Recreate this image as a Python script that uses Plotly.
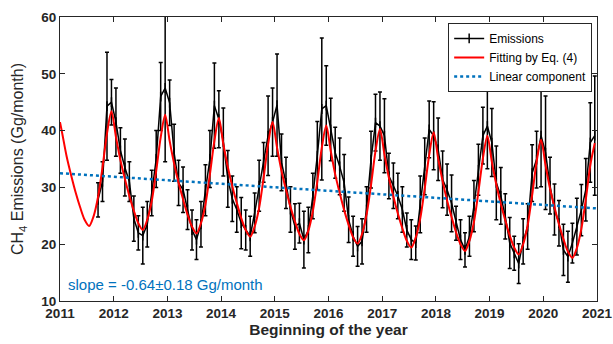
import plotly.graph_objects as go

# ---- data ----
data_start_year = 2011
data_start_month = 9  # first observation: Sep 2011

emissions = [
    27.8, 31.0, 44.3, 45.0,
    41.5, 36.5, 33.5, 31.0, 24.5, 22.0, 21.5, 23.5, 29.0, 35.0, 46.0, 47.5,
    44.9, 36.1, 30.8, 29.6, 26.1, 22.5, 20.8, 23.5, 29.5, 35.0, 44.4, 42.0,
    38.0, 31.5, 28.0, 26.1, 23.7, 22.5, 21.4, 25.5, 30.3, 34.4, 39.1, 41.5,
    44.5, 34.4, 30.8, 26.1, 23.1, 23.7, 20.8, 22.5, 28.5, 35.6, 43.8, 44.4,
    40.2, 36.1, 33.7, 30.8, 24.3, 21.4, 19.6, 20.5, 26.1, 34.9, 41.4, 40.8,
    39.1, 32.0, 30.3, 28.5, 26.1, 22.5, 20.8, 20.2, 27.0, 33.7, 40.2, 39.1,
    36.7, 31.4, 29.6, 27.2, 23.7, 20.8, 19.0, 21.4, 26.7, 33.1, 39.1, 40.8,
    37.9, 30.8, 28.5, 24.9, 20.2, 18.4, 16.6, 20.5, 23.1, 32.5, 34.9, 39.1,
    36.1, 30.3, 26.1, 23.7, 19.0, 17.8, 20.2, 23.1, 26.0, 29.6, 37.9, 39.1,
]
emission_err = [
    3.0, 3.5, 9.5, 4.0,
    6.0, 4.0, 5.0, 3.5, 4.0, 3.0, 5.0, 4.0, 4.0, 5.0, 6.0, 13.0,
    4.0, 5.0, 4.0, 4.0, 3.5, 3.5, 3.5, 4.0, 4.5, 5.0, 7.5, 5.0,
    6.0, 5.0, 4.0, 4.0, 4.5, 3.5, 3.5, 3.5, 4.5, 3.5, 7.0, 6.0,
    9.0, 5.0, 4.5, 4.0, 4.0, 3.5, 5.0, 4.0, 4.0, 6.0, 12.5, 7.0,
    5.5, 4.5, 5.0, 5.0, 4.0, 3.5, 3.5, 4.0, 4.0, 5.0, 5.0, 6.0,
    6.5, 4.0, 4.0, 4.0, 4.0, 3.0, 3.5, 3.0, 5.0, 5.0, 5.0, 6.0,
    5.5, 5.0, 4.5, 5.0, 3.0, 3.5, 3.0, 3.5, 4.5, 4.5, 5.0, 7.5,
    6.0, 6.5, 5.0, 4.0, 4.5, 3.0, 3.5, 4.0, 4.0, 5.0, 5.0, 9.0,
    10.0, 5.0, 4.5, 4.0, 4.5, 4.5, 3.5, 5.0, 4.5, 5.5, 7.0, 10.5,
]

fit_start_value = 41.5  # fitted curve at 2011.0
fit_values = [
    39.5, 35.4, 32.1, 29.1, 26.5, 24.3, 23.2, 24.9, 28.3, 33.5, 39.5, 43.4,
    38.9, 34.8, 31.5, 28.5, 25.9, 23.7, 22.5, 24.3, 27.6, 32.9, 38.8, 42.8,
    38.2, 34.2, 30.8, 27.9, 25.2, 23.1, 21.9, 23.7, 27.0, 32.3, 38.2, 42.2,
    37.6, 33.6, 30.2, 27.3, 24.6, 22.5, 21.3, 23.1, 26.4, 31.7, 37.6, 41.5,
    37.0, 32.9, 29.6, 26.6, 24.0, 21.8, 20.7, 22.4, 25.8, 31.0, 37.0, 40.9,
    36.4, 32.3, 29.0, 26.0, 23.4, 21.2, 20.1, 21.8, 25.2, 30.4, 36.4, 40.3,
    35.8, 31.7, 28.4, 25.4, 22.8, 20.6, 19.4, 21.2, 24.5, 29.8, 35.7, 39.7,
    35.1, 31.1, 27.7, 24.8, 22.1, 20.0, 18.8, 20.6, 23.9, 29.2, 35.1, 39.1,
    34.5, 30.5, 27.1, 24.2, 21.5, 19.4, 18.2, 20.0, 23.3, 28.6, 34.5, 38.4,
    33.9, 29.8, 26.5, 23.5, 20.9, 18.7, 17.6, 19.3, 22.7, 27.9, 33.9, 37.8,
]

linear_years = [2011, 2021]
linear_values = [32.5, 26.3]

year_ticks = list(range(2011, 2022))
y_ticks = [10, 20, 30, 40, 50, 60]

# mid-month decimal-year positions
def month_positions(start_year, start_month, n):
    out = []
    for i in range(n):
        k = (start_month - 1) + i
        y = start_year + k // 12
        m = k % 12
        out.append(y + (m + 0.5) / 12)
    return out

x_data = month_positions(data_start_year, data_start_month, len(emissions))
x_fit = [2011.0] + month_positions(2011, 1, len(fit_values))
y_fit = [fit_start_value] + fit_values

BLUE = "#0072BD"
TXT = "#262626"
FONT = "Liberation Sans, Arial"

fig = go.Figure()

fig.add_trace(go.Scatter(
    x=x_data, y=emissions, name="Emissions",
    mode="lines+markers",
    line=dict(color="black", width=1.5),
    marker=dict(symbol="line-ns-open", size=7, color="black",
                line=dict(color="black", width=1.5)),
    error_y=dict(type="data", array=emission_err, visible=True,
                 color="black", thickness=1.5, width=2),
))

fig.add_trace(go.Scatter(
    x=x_fit, y=y_fit, name="Fitting by Eq. (4)",
    mode="lines", line=dict(color="#FF0000", width=2, shape="spline", smoothing=0.8),
))

fig.add_trace(go.Scatter(
    x=linear_years, y=linear_values, name="Linear component",
    mode="lines", line=dict(color=BLUE, width=2.5, dash="dot"),
))

fig.add_annotation(
    x=2011.12, y=12.9, xref="x", yref="y",
    text="slope = -0.64±0.18 Gg/month", showarrow=False,
    xanchor="left", yanchor="middle",
    font=dict(family=FONT, size=15, color=BLUE),
)

axis_common = dict(
    showline=True, linecolor=TXT, linewidth=1, mirror="ticks",
    ticks="inside", ticklen=5, tickcolor=TXT, tickwidth=1,
    showgrid=False, zeroline=False, automargin=False,
    ticklabeloverflow="allow",
    tickfont=dict(family=FONT, size=13.5, color=TXT),
)

fig.update_layout(
    width=613, height=344,
    margin=dict(l=60, r=16, t=17, b=43),
    paper_bgcolor="white", plot_bgcolor="white",
    font=dict(family=FONT, color=TXT),
    xaxis=dict(range=[2011, 2021], tickvals=year_ticks,
               ticktext=[f"<b>{y}</b>" for y in year_ticks],
               title=dict(text="<b>Beginning of the year</b>", standoff=2,
                          font=dict(size=15.5, color=TXT)),
               **axis_common),
    yaxis=dict(range=[10, 60], tickvals=y_ticks,
               ticktext=[f"<b>{v}</b>" for v in y_ticks],
               title=dict(text="CH<sub>4</sub> Emissions (Gg/month)", standoff=13,
                          font=dict(size=16, color=TXT)),
               **axis_common),
    legend=dict(x=0.991, y=0.979, xanchor="right", yanchor="top",
                bgcolor="white", bordercolor=TXT, borderwidth=1,
                font=dict(family=FONT, size=12, color="black"),
                tracegroupgap=0, itemwidth=30),
    showlegend=True,
)

# remove the page's default body margin so the figure fills the window exactly
fig.write_html("out.html", config={"displayModeBar": False},
               post_script="document.body.style.margin='0';")
